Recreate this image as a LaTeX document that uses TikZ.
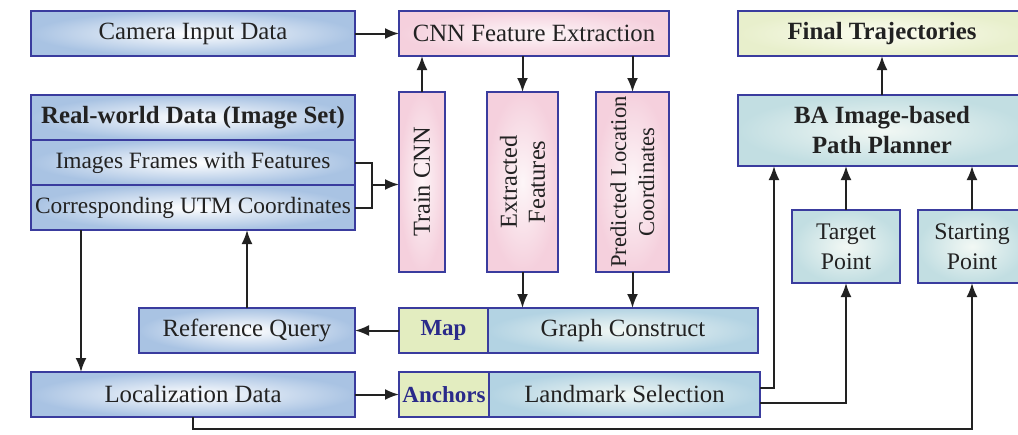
\documentclass[tikz,border=0pt]{standalone}
\usepackage{fontspec}
\setmainfont{Liberation Serif}
\usetikzlibrary{arrows.meta}
\definecolor{bord}{HTML}{3A3C9E}
\definecolor{blueO}{HTML}{A9C3E3}
\definecolor{pinkO}{HTML}{F5D0DD}
\definecolor{pinkI}{HTML}{FDF6F8}
\definecolor{yelO}{HTML}{E8EFCC}
\definecolor{yelI}{HTML}{FBFCF0}
\definecolor{tealO}{HTML}{C2DEE2}
\definecolor{tealI}{HTML}{F2F8F4}
\definecolor{gcO}{HTML}{B3D3E3}
\definecolor{mapC}{HTML}{E3EDC0}
\definecolor{mapT}{HTML}{2A2A8A}
\definecolor{txt}{HTML}{222222}
\definecolor{ln}{HTML}{222222}
\newcommand{\mybox}[7]{%
  \pgfmathsetmacro{\mycx}{(#3+#5)/2}%
  \pgfmathsetmacro{\mycy}{(#4+#6)/2}%
  \pgfmathsetmacro{\mywd}{(#5-#3)*0.5}%
  \pgfmathsetmacro{\myht}{(#6-#4)*0.5}%
  \node[#1, minimum width=\mywd pt, minimum height=\myht pt] (#2) at (\mycx,\mycy) {#7};}
\begin{document}
\begin{tikzpicture}[x=0.5pt,y=-0.5pt,
  base/.style={inner sep=0pt, outer sep=0pt, draw=bord, line width=1.1pt, text=txt,
    font=\fontsize{12.4}{15}\selectfont, align=center},
  subfont/.style={font=\fontsize{11.7}{14}\selectfont},
  boldfont/.style={font=\bfseries\fontsize{12.4}{15}\selectfont},
  bluebox/.style={base, inner color=white, outer color=blueO},
  pinkbox/.style={base, inner color=pinkI, outer color=pinkO},
  yelbox/.style={base, inner color=yelI, outer color=yelO},
  tealbox/.style={base, inner color=tealI, outer color=tealO},
  gcbox/.style={base, inner color=tealI, outer color=gcO},
  mapbox/.style={base, fill=mapC, text=mapT, font=\bfseries\fontsize{11.5}{14}\selectfont},
  vtext/.style={rotate=90, text=txt, align=center, font=\fontsize{12.2}{14}\selectfont},
  conn/.style={draw=ln, line width=1pt, -{Latex[length=7pt,width=5.5pt]}},
  plain/.style={draw=ln, line width=1pt},
]
\clip (0,0) rectangle (1018,434);
\fill[white] (0,0) rectangle (1018,434);

% left column
\mybox{bluebox}{cam}{31}{11}{355}{56}{Camera Input Data}
\mybox{bluebox,boldfont}{rw}{31}{95}{355}{140}{Real-world Data (Image Set)}
\mybox{bluebox,subfont}{img}{31}{140}{355}{185}{Images Frames with Features}
\mybox{bluebox,subfont}{utm}{31}{185}{355}{230}{Corresponding UTM Coordinates}
\mybox{bluebox}{refq}{139}{308}{355}{353}{Reference Query}
\mybox{bluebox}{loc}{31}{372}{355}{417}{Localization Data}

% middle
\mybox{pinkbox}{cnn}{399}{11}{669}{56}{CNN Feature Extraction}
\mybox{pinkbox}{train}{399}{92}{445}{272}{}
\node[vtext] at (train) {Train CNN};
\mybox{pinkbox}{ext}{487}{92}{558}{272}{}
\node[vtext] at (ext) {Extracted\\Features};
\mybox{pinkbox}{pred}{596}{92}{669}{272}{}
\node[vtext, font=\fontsize{11.3}{14}\selectfont] at (pred) {Predicted Location\\Coordinates};

\mybox{mapbox}{map}{399}{308}{488}{353}{Map}
\mybox{gcbox}{gc}{488}{308}{758}{353}{Graph Construct}
\mybox{mapbox}{anch}{399}{372}{489}{417}{Anchors}
\mybox{gcbox}{lm}{489}{372}{760}{417}{Landmark Selection}

% right
\mybox{yelbox,boldfont}{final}{738}{11}{1026}{56}{Final Trajectories}
\mybox{tealbox,boldfont}{ba}{738}{95}{1026}{166}{BA Image-based\\Path Planner}
\mybox{tealbox,font=\fontsize{11.9}{15}\selectfont}{target}{792}{210}{900}{283}{Target\\Point}
\mybox{tealbox,font=\fontsize{11.9}{15}\selectfont}{start}{918}{210}{1026}{283}{Starting\\Point}

% connectors
\draw[conn] (cam.east) -- (cnn.west);
\coordinate (br) at (372,184.5);
\draw[plain] (img.east) -| (br);
\draw[plain] (utm.east) -| (br);
\draw[conn] (br) -- (br -| train.west);
\draw[conn] (train.north) -- (train.north |- cnn.south);
\draw[conn] (ext.north |- cnn.south) -- (ext.north);
\draw[conn] (pred.north |- cnn.south) -- (pred.north);
\draw[conn] (ext.south) -- (ext.south |- gc.north);
\draw[conn] (pred.south) -- (pred.south |- gc.north);
\draw[conn] (map.west) -- (refq.east);
\draw[conn] (refq.north) -- (refq.north |- utm.south);
\draw[conn] ([xshift=25pt]utm.south west) -- ([xshift=25pt]loc.north west);
\draw[conn] (loc.east) -- (anch.west);
\draw[conn] ([xshift=81pt]loc.south west) |- (start.south |- 0,429) -- (start.south);
\draw[conn] ([yshift=3.25pt]lm.east) -| ([xshift=18pt]ba.south west);
\draw[conn] ([yshift=-4pt]lm.east) -| (target.south);
\draw[conn] (target.north) -- (target.north |- ba.south);
\draw[conn] (start.north) -- (start.north |- ba.south);
\draw[conn] (ba.north) -- (final.south);
\end{tikzpicture}
\end{document}
